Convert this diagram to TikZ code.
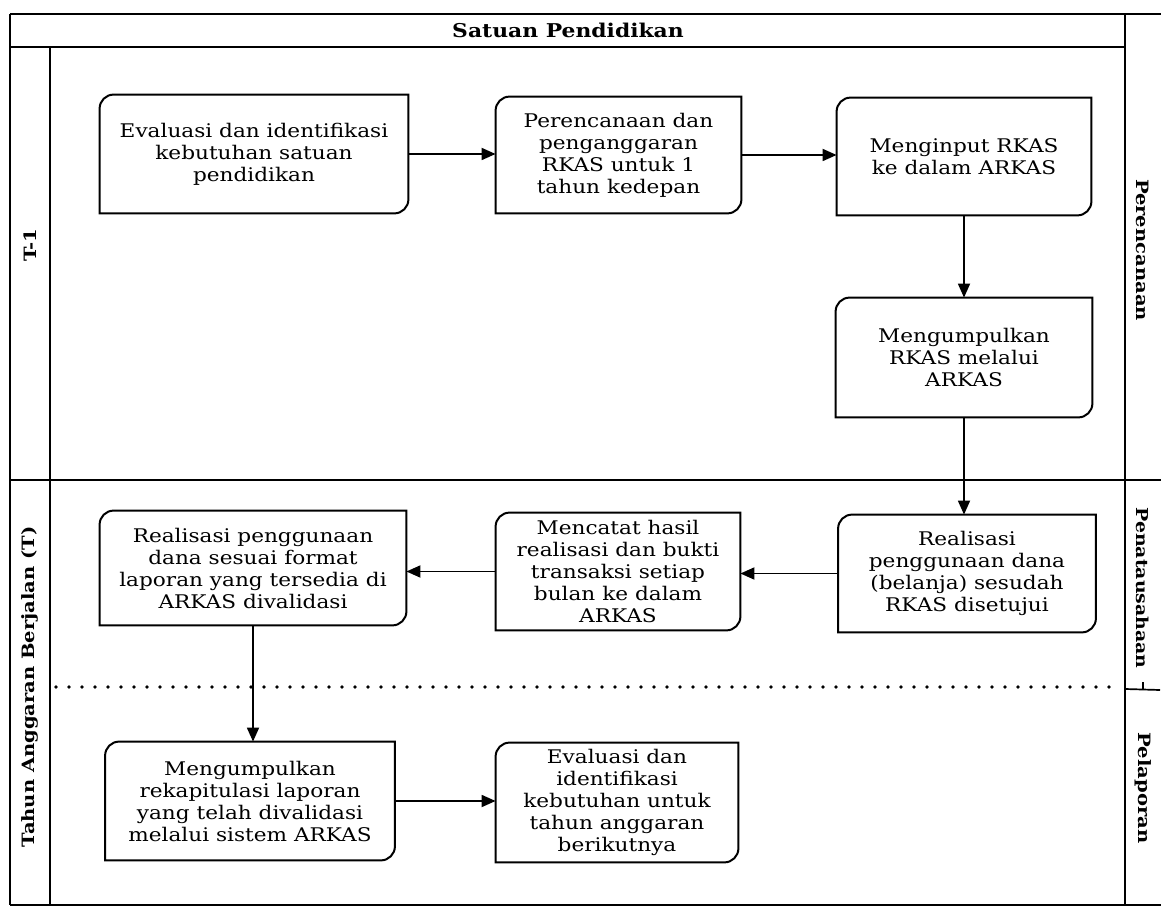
\documentclass[tikz,border=0pt]{standalone}
\usepackage{fontspec}
\setmainfont{DejaVu Serif}[FakeStretch=1.15]
\usetikzlibrary{arrows.meta}
\newcommand\roundbox[1]{\draw[boxline] ([yshift=-7pt]#1.north west) arc[start angle=180,end angle=90,radius=7pt] -- (#1.north east) -- ([yshift=7pt]#1.south east) arc[start angle=0,end angle=-90,radius=7pt] -- (#1.south west) -- cycle;}
\begin{document}
\begin{tikzpicture}[x=0.5pt,y=-0.5pt,
  pbox/.style={draw=none, align=center, inner sep=0pt, font=\fontsize{9.4}{11}\selectfont},
  boxline/.style={line width=1pt, black},
  flow/.style={line width=0.9pt, -{Triangle[length=7pt,width=6pt]}},
  frame/.style={line width=0.85pt},
  dotline/.style={line width=1.8pt, line cap=round, dash pattern=on 0pt off 6.5pt},
  lane/.style={font=\bfseries\fontsize{8.5}{10}\selectfont, inner sep=0pt}]
\useasboundingbox (0,0) rectangle (1161,908);
\fill[white] (0,0) rectangle (1161,908);
% frame
\draw[frame] (10,14) -- (1161,14);
\draw[frame] (10,14) -- (10,905);
\draw[frame] (10,905) -- (1161,905);
\draw[frame] (10,47) -- (1125,47);
\draw[frame] (50,47) -- (50,905);
\draw[frame] (1125,14) -- (1125,905);
\draw[frame] (10,480) -- (1161,480);
\draw[dotline] (56,687) -- (1122,687);
\draw[frame] (1125,689) -- (1160,690);
\draw[frame] (1143,682) -- (1143,690);
% labels
\node[lane, font=\bfseries\fontsize{9.5}{11}\selectfont] (sp) at (568,30) {Satuan Pendidikan};
\node[lane, rotate=90] (t1) at (30,245) {T-1};
\node[lane, rotate=90] (tt) at (30,687) {Tahun Anggaran Berjalan (T)};
\node[lane, rotate=-90] (pr) at (1143,250) {Perencanaan};
\node[lane, rotate=-90, font=\bfseries\fontsize{8.2}{10}\selectfont] (pn) at (1143,588) {Penatausahaan};
\node[lane, rotate=-90] (pl) at (1143,788) {Pelaporan};
% boxes
\node[pbox, minimum width=154pt, minimum height=59pt] (b1) at (254,154) {Evaluasi dan identifikasi\\kebutuhan satuan\\pendidikan};
\node[pbox, minimum width=122.5pt, minimum height=58pt] (b2) at (618.5,155) {Perencanaan dan\\penganggaran\\RKAS untuk 1\\tahun kedepan};
\node[pbox, minimum width=127pt, minimum height=58.5pt] (b3) at (964,156.5) {Menginput RKAS\\ke dalam ARKAS};
\node[pbox, minimum width=128pt, minimum height=59.5pt] (b4) at (964,357.5) {Mengumpulkan\\RKAS melalui\\ARKAS};
\node[pbox, minimum width=128.5pt, minimum height=58.5pt] (b5) at (967,573.5) {Realisasi\\penggunaan dana\\(belanja) sesudah\\RKAS disetujui};
\node[pbox, minimum width=122pt, minimum height=58.5pt] (b6) at (618,571.5) {Mencatat hasil\\realisasi dan bukti\\transaksi setiap\\bulan ke dalam\\ARKAS};
\node[pbox, minimum width=153pt, minimum height=57pt] (b7) at (253,568) {Realisasi penggunaan\\dana sesuai format\\laporan yang tersedia di\\ARKAS divalidasi};
\node[pbox, minimum width=144.5pt, minimum height=59pt] (b8) at (250,801) {Mengumpulkan\\rekapitulasi laporan\\yang telah divalidasi\\melalui sistem ARKAS};
\node[pbox, minimum width=121pt, minimum height=59.5pt] (b9) at (617,802.5) {Evaluasi dan\\identifikasi\\kebutuhan untuk\\tahun anggaran\\berikutnya};
\foreach \n in {b1,b2,b3,b4,b5,b6,b7,b8,b9} {\roundbox{\n}}
% connectors
\draw[flow] (b1.east) -- (b1.east -| b2.west);
\draw[flow] (b2.east) -- (b2.east -| b3.west);
\draw[flow] (b3.south) -- (b3.south |- b4.north);
\draw[flow] (b4.south) -- (b4.south |- b5.north);
\draw[flow] (b5.west) -- (b5.west -| b6.east);
\draw[flow] (b6.west) -- (b6.west -| b7.east);
\draw[flow] (b7.south) -- (b7.south |- b8.north);
\draw[flow] (b8.east) -- (b8.east -| b9.west);
\end{tikzpicture}
\end{document}
